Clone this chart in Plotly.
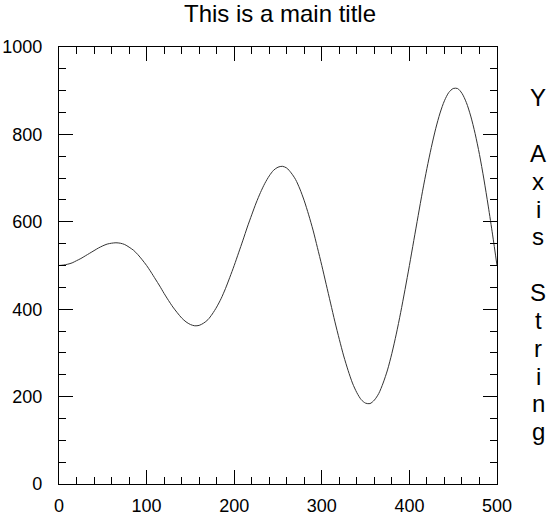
import plotly.graph_objects as go

x_vals = list(range(0, 501, 5))
y_vals = [500, 501, 503, 506, 511, 516, 522, 528, 534, 540,
          545, 549, 551, 552, 551, 548, 542, 535, 525, 513,
          500, 485, 469, 453, 436, 420, 405, 392, 380, 371,
          365, 362, 363, 368, 376, 389, 405, 424, 447, 473,
          500, 529, 558, 588, 616, 643, 667, 688, 705, 718,
          725, 727, 723, 712, 697, 675, 648, 616, 581, 541,
          500, 457, 414, 371, 331, 293, 260, 231, 209, 193,
          185, 184, 192, 207, 231, 261, 299, 343, 392, 445,
          500, 557, 614, 670, 722, 770, 813, 849, 877, 896,
          905, 905, 894, 873, 842, 802, 754, 698, 636, 570,
          500]

title_text = "This is a main title"
y_axis_string = "Y Axis String"

W, H = 551, 517
L, R, T, B = 59, 497, 47, 484

fig = go.Figure()
fig.add_trace(go.Scatter(x=x_vals, y=y_vals, mode="lines",
                         line=dict(color="#333333", width=1, shape="spline", smoothing=0.8),
                         hoverinfo="skip", showlegend=False))

font = "Liberation Sans, Arial, Helvetica, sans-serif"
axis_common = dict(showgrid=False, zeroline=False, showline=True, linecolor="black",
                   linewidth=1.2, mirror="ticks", ticks="inside", ticklen=14,
                   tickwidth=1, tickcolor="black", automargin=False,
                   tickfont=dict(family=font, size=18, color="black"))

fig.update_xaxes(range=[0, 500], tickvals=[0, 100, 200, 300, 400, 500],
                 minor=dict(dtick=20, ticks="inside", ticklen=7, tickcolor="black", tickwidth=1),
                 ticklabelstandoff=5, **axis_common)
fig.update_yaxes(range=[0, 1000], tickvals=[0, 200, 400, 600, 800, 1000],
                 minor=dict(dtick=50, ticks="inside", ticklen=7, tickcolor="black", tickwidth=1),
                 ticklabelstandoff=12, **axis_common)

annotations = []
line_h = 27.8
first_center = 98
for i, ch in enumerate(y_axis_string):
    if ch == " ":
        continue
    yc = first_center + line_h * i
    annotations.append(dict(text=ch, xref="paper", yref="paper",
                            x=(538 - L) / (R - L), y=1 - (yc - T) / (B - T),
                            xanchor="center", yanchor="middle", showarrow=False,
                            font=dict(family=font, size=24, color="black")))

fig.update_layout(
    width=W, height=H,
    margin=dict(l=L, r=W - R, t=T, b=H - B, pad=0),
    paper_bgcolor="white", plot_bgcolor="white",
    title=dict(text=title_text, x=280 / W, xanchor="center", y=1 - 14 / H,
               yanchor="middle", font=dict(family=font, size=24, color="black")),
    annotations=annotations,
)

fig.write_html("out.html", config={"displayModeBar": False},
               post_script="document.body.style.margin='0';document.body.style.overflow='hidden';")
